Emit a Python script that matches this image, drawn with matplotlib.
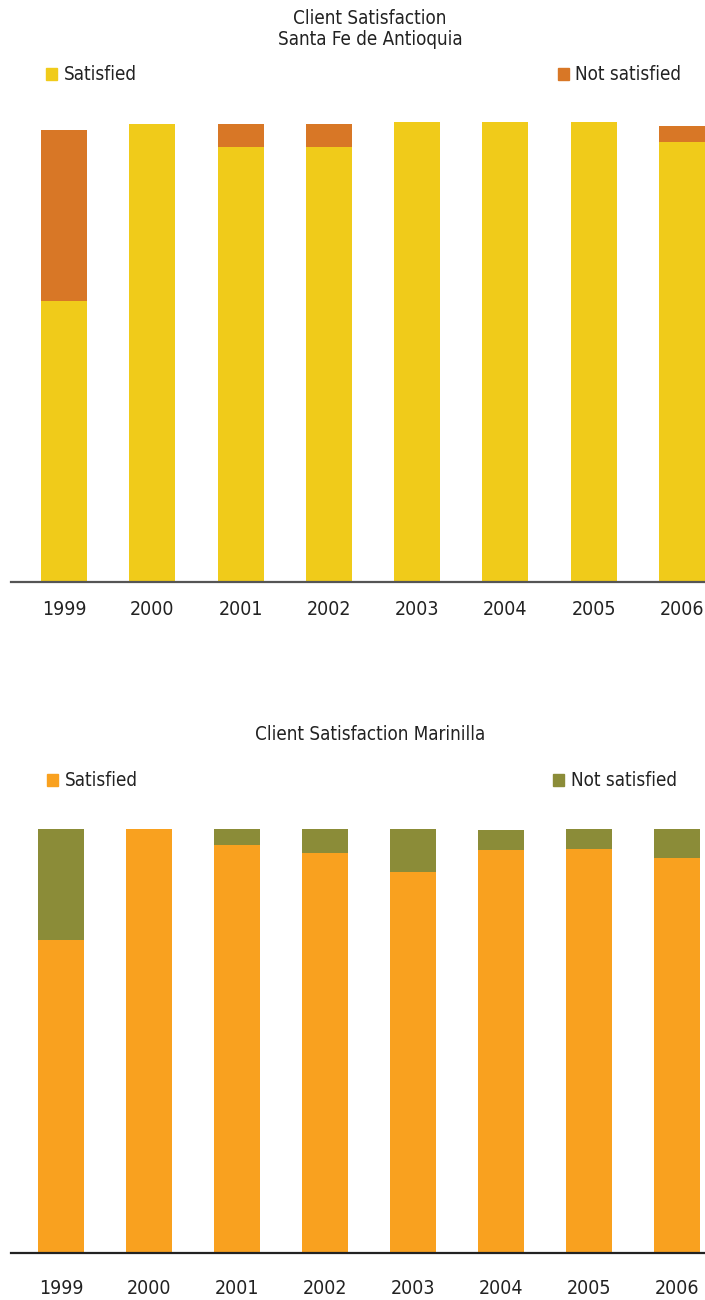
import matplotlib.pyplot as plt
from matplotlib.patches import Patch
import numpy as np

plt.rcParams['font.family'] = ['DejaVu Sans']
plt.rcParams['font.stretch'] = 'condensed'

years = ['1999', '2000', '2001', '2002', '2003', '2004', '2005', '2006']

# Santa Fe de Antioquia (%)
santafe_satisfied = [61.1, 99.6, 94.6, 94.6, 100.0, 100.0, 100.0, 95.7]
santafe_not_satisfied = [37.2, 0.0, 5.0, 5.0, 0.0, 0.0, 0.0, 3.4]

# Marinilla (%)
marinilla_satisfied = [73.8, 100.0, 96.2, 94.3, 89.9, 95.0, 95.3, 93.2]
marinilla_not_satisfied = [26.2, 0.0, 3.8, 5.7, 10.1, 4.8, 4.7, 6.8]


def draw_panel(fig, rect, title, sat, notsat, c_sat, c_not, xlim, axis_color,
               title_y, legend_y, legend_x, label_pad):
    ax = fig.add_axes(rect)
    x = np.arange(len(years))
    ax.bar(x, sat, width=0.52, color=c_sat, linewidth=0)
    ax.bar(x, notsat, bottom=sat, width=0.52, color=c_not, linewidth=0)

    ax.set_xlim(*xlim)
    ax.set_ylim(0, 100)
    ax.set_xticks(x)
    ax.set_xticklabels(years, fontsize=14, color='#222222')
    ax.tick_params(axis='x', length=0, pad=label_pad)
    ax.set_yticks([])
    for side in ['top', 'right', 'left']:
        ax.spines[side].set_visible(False)
    ax.spines['bottom'].set_color(axis_color)
    ax.spines['bottom'].set_linewidth(1.6)

    fig.text(0.525, title_y, title, ha='center', va='top', fontsize=13.5,
             color='#222222', linespacing=1.15)

    for label, color, lx in [('Satisfied', c_sat, legend_x[0]),
                             ('Not satisfied', c_not, legend_x[1])]:
        leg = fig.legend(handles=[Patch(color=color, label=label)],
                         loc='center left', bbox_to_anchor=(lx, legend_y),
                         frameon=False, fontsize=13.5, handlelength=0.6,
                         handleheight=0.6, handletextpad=0.35, borderaxespad=0,
                         borderpad=0)
        for t in leg.get_texts():
            t.set_color('#222222')
    return ax


fig = plt.figure(figsize=(7.05, 13), dpi=100)

draw_panel(fig, [0.0156, 0.5523, 0.9844, 0.3539],
           'Client Satisfaction\nSanta Fe de Antioquia',
           santafe_satisfied, santafe_not_satisfied,
           '#F0CB1A', '#D87726', (-0.60, 7.26), '#555555',
           title_y=1 - 9 / 1300, legend_y=1 - 75 / 1300, legend_x=(0.065, 0.791),
           label_pad=13)

draw_panel(fig, [0.0156, 0.0362, 0.9844, 0.3261],
           'Client Satisfaction Marinilla',
           marinilla_satisfied, marinilla_not_satisfied,
           '#F9A11F', '#8B8C38', (-0.57, 7.32), '#222222',
           title_y=1 - 725 / 1300, legend_y=1 - 781 / 1300, legend_x=(0.067, 0.784),
           label_pad=19)

fig.savefig('out.png', dpi=100)
